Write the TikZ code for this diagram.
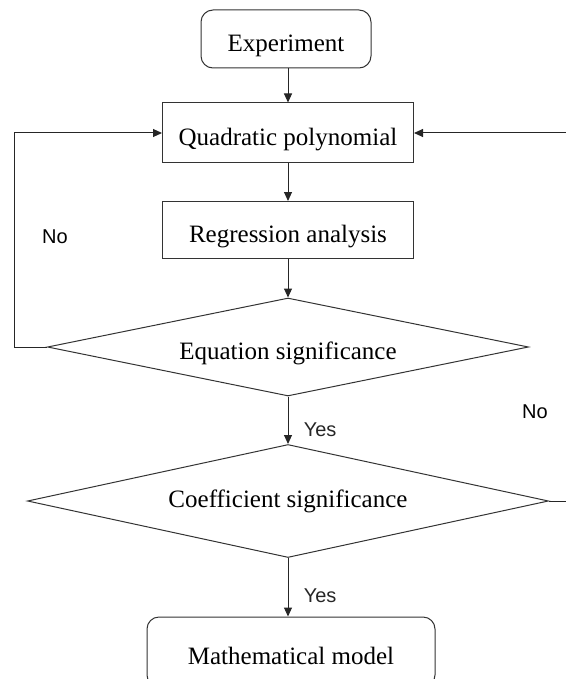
\documentclass[tikz,border=0pt]{standalone}
\usepackage{fontspec}
\setmainfont{Liberation Serif}
\setsansfont{Liberation Sans}
\usetikzlibrary{arrows.meta,positioning,shapes.geometric}

\begin{document}
\begin{tikzpicture}[x=1pt, y=-1pt,
  box/.style={draw=black!80, line width=1pt, minimum height=58pt, align=center,
              font=\fontsize{25}{30}\selectfont, inner sep=0pt,
              text height=24.5pt, text depth=0pt},
  endbox/.style={box, rounded corners=12pt},
  decide/.style={diamond, draw=black!80, line width=1pt, inner sep=0pt, aspect=4.8,
                 font=\fontsize{25}{30}\selectfont},
  arr/.style={-{Triangle[length=9pt, width=8pt]}, line width=1pt, black!85},
  lbl/.style={font=\sffamily\fontsize{20}{24}\selectfont},
]
\useasboundingbox (0,0) rectangle (565,679);

% Boxes
\node[endbox, minimum width=170pt] (exper) at (286,39) {Experiment};
\node[box, minimum width=251pt, minimum height=60pt] (quad) at (288,133) {Quadratic polynomial};
\node[box, minimum width=251pt, minimum height=57pt] (regr) at (288,230) {Regression analysis};

% Decisions
\node[decide, minimum width=481pt, minimum height=98pt,
      text height=24.5pt, text depth=0pt] (eqsig) at (288,347) {Equation significance};
\node[decide, minimum width=521pt, minimum height=113pt] (coef) at (288,501) {Coefficient significance};

\node[endbox, minimum width=288pt, minimum height=70pt] (model) at (291,652) {Mathematical model};

% Main flow
\draw[arr] (quad.north |- exper.south) -- (quad.north);
\draw[arr] (quad) -- (regr);
\draw[arr] (regr.south) -- (eqsig.north);
\draw[arr] (eqsig.south) -- node[lbl, right=12pt, pos=0.7] {Yes} (coef.north);
\draw[arr] (coef.south) -- node[lbl, right=12pt, pos=0.65] {Yes} (coef.south |- model.north);

% Feedback loops
\coordinate (rgt) at (580,501);
\draw[arr] (eqsig.west) -- ++(-33,0) |- (quad.west);
\draw[arr] (coef.east) -- (rgt) |- (quad.east);

\node[lbl] (nol) at (55,237) {No};
\node[lbl] (nor) at (535,412) {No};
\end{tikzpicture}
\end{document}
